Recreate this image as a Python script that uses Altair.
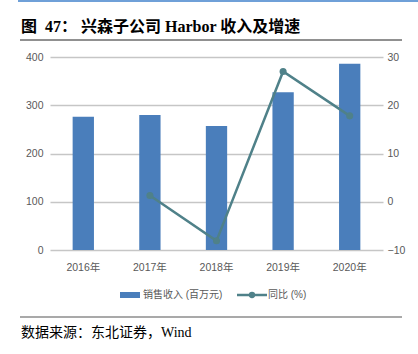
import altair as alt
import pandas as pd

years = ["2016年", "2017年", "2018年", "2019年", "2020年"]
revenue = [276, 280, 257, 327, 386]
growth = [None, 1.3, -8.1, 27.0, 17.8]

title_text = "图\u00a0\u00a047：\u00a0兴森子公司 Harbor 收入及增速"
source_text = "数据来源：东北证券，Wind"
bar_label = "销售收入 (百万元)"
line_label = "同比 (%)"

BAR = "#4a7ebb"
LINE = "#4f8189"
GRAY = "#595959"
SANS = "Liberation Sans, Noto Sans CJK SC"
SERIF = "Liberation Serif, Noto Sans CJK SC"

df = pd.DataFrame({"year": years, "revenue": revenue, "growth": growth})

xenc = alt.X("year:N", sort=years, title=None,
             scale=alt.Scale(paddingInner=0.68, paddingOuter=0.34),
             axis=alt.Axis(labelAngle=0, domain=False, ticks=False, labelPadding=12,
                           labelFont=SANS, labelFontSize=10.5, labelColor=GRAY))

bars = alt.Chart(df).mark_bar(color=BAR).encode(
    x=xenc,
    y=alt.Y("revenue:Q", title=None,
            scale=alt.Scale(domain=[0, 400], nice=False),
            axis=alt.Axis(values=[0, 100, 200, 300, 400], domain=False, ticks=False,
                          labelPadding=7, labelFont=SANS, labelFontSize=10.5,
                          labelColor=GRAY, gridColor="#c6c6c6", gridWidth=1.5)),
)

line = alt.Chart(df).transform_filter("isValid(datum.growth)").mark_line(
    color=LINE, strokeWidth=2.5,
    point=alt.OverlayMarkDef(color=LINE, size=50, filled=True, opacity=1)
).encode(
    x=alt.X("year:N", sort=years, bandPosition=0.5),
    y=alt.Y("growth:Q", title=None,
            scale=alt.Scale(domain=[-10, 30], nice=False),
            axis=alt.Axis(orient="right", values=[-10, 0, 10, 20, 30], domain=False,
                          ticks=False, grid=False, labelPadding=4, labelFont=SANS,
                          labelFontSize=10.5, labelColor=GRAY)),
)

one = pd.DataFrame({"k": [0]})

def txt(s, x, y, size, font, color, weight="normal", align="left"):
    return alt.Chart(pd.DataFrame({"t": [s]})).mark_text(
        align=align, baseline="middle", fontSize=size, font=font, color=color,
        fontWeight=weight
    ).encode(x=alt.value(x), y=alt.value(y), text="t:N")

def rule(x1, x2, y, color, w):
    return alt.Chart(one).mark_rule(color=color, strokeWidth=w).encode(
        x=alt.value(x1), x2=alt.value(x2), y=alt.value(y))

top_line = rule(-32, 368, -56, "#6fa0d8", 2)
title = txt(title_text, -29, -30, 16, SERIF, "#000000", weight="bold")
title_rule = rule(-30, 352, -17, "#222222", 1)
bottom_rule = rule(-30, 352, 260, "#8c8c8c", 1.5)
source = txt(source_text, -29, 276, 14, SERIF, "#000000")

leg_bar = alt.Chart(one).mark_rect(color=BAR).encode(
    x=alt.value(70), x2=alt.value(90), y=alt.value(235), y2=alt.value(241))
leg_bar_t = txt(bar_label, 93, 238, 10, SANS, GRAY)
leg_line = rule(187, 217, 238, LINE, 2.5)
leg_pt = alt.Chart(one).mark_point(color=LINE, filled=True, size=40, opacity=1).encode(
    x=alt.value(202), y=alt.value(238))
leg_line_t = txt(line_label, 218, 238, 10, SANS, GRAY)

chart = alt.layer(
    bars, line, top_line, title, title_rule, bottom_rule, source,
    leg_bar, leg_bar_t, leg_line, leg_pt, leg_line_t
).resolve_scale(y="independent").properties(
    width=333, height=193,
    autosize=alt.AutoSizeParams(type="none"),
    padding={"left": 50, "top": 57, "right": 35, "bottom": 104},
    background="white",
).configure_view(stroke=None)

chart.save("out.html", embed_options={"renderer": "svg", "actions": False})
